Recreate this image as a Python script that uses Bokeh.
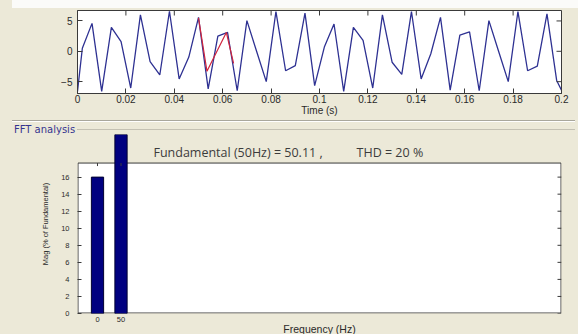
from bokeh.plotting import figure
from bokeh.layouts import column
from bokeh.models import Range1d, FixedTicker, Label, Div, GlobalInlineStyleSheet
from bokeh.embed import file_html
from bokeh.resources import INLINE

BG = "#ECE9D8"
FRAME = "#3a3a3a"

# --- sampled signal (time in s, amplitude) ---
time_s = [0.0,
          0.002, 0.006, 0.010, 0.014, 0.018, 0.022, 0.026, 0.030, 0.034, 0.038,
          0.042, 0.046, 0.050, 0.054, 0.058, 0.062, 0.066, 0.070, 0.074, 0.078,
          0.082, 0.086, 0.090, 0.094, 0.098,
          0.102, 0.106, 0.110, 0.114, 0.118, 0.122, 0.126, 0.130, 0.134, 0.138,
          0.142, 0.146, 0.150, 0.154, 0.158, 0.162, 0.166, 0.170, 0.174, 0.178,
          0.182, 0.186, 0.190, 0.194, 0.198,
          0.2]
signal = [-6.6,
          0.5, 4.6, -6.6, 3.95, 1.6, -6.05, 6.0, -1.7, -3.9, 6.6,
          -4.55, -0.95, 5.6, -6.2, 2.5, 3.1, -6.5, 5.05, 0.0, -5.0,
          6.55, -3.2, -2.35, 6.3, -5.65,
          0.7, 4.5, -6.6, 3.95, 1.8, -6.05, 6.0, -1.8, -3.8, 6.55,
          -4.55, -0.4, 5.6, -6.4, 2.65, 3.2, -6.5, 5.05, 0.0, -5.0,
          6.55, -3.2, -2.45, 6.15, -4.8,
          -6.4]

# FFT window segment (one cycle) shown in red
window_time = [0.050, 0.0535, 0.0615, 0.0645]
window_signal = [5.5, -3.3, 3.1, -2.0]

time_ticks = [0.0, 0.02, 0.04, 0.06, 0.08, 0.1, 0.12, 0.14, 0.16, 0.18, 0.2]
time_tick_labels = ["0", "0.02", "0.04", "0.06", "0.08", "0.1", "0.12",
                    "0.14", "0.16", "0.18", "0.2"]
signal_ticks = [-5, 0, 5]

# --- FFT result ---
freq_hz = [0, 50]
mag_pct = [16, 100]
fundamental_hz = 50
fundamental_mag = 50.11
thd_pct = 20
mag_ticks = [0, 2, 4, 6, 8, 10, 12, 14, 16]
freq_ticks = [0, 50]
mag_axis_top = 17.65

TICK_FONT = "Liberation Sans"
TXT = "#2a2a2a"

# frame geometry shared by both axes panels (pixels)
LEFT, RIGHT = 77, 17
FRAME_W = 578 - LEFT - RIGHT

# thin white strip across the top of the window
strip = Div(text="", width=578, height=8,
            styles={"background": f"linear-gradient(to right, {BG} 12px, #fbfbf9 12px)",
                    "margin": "0", "padding": "0"})

# --- time-domain signal ---
t_lo, t_hi = 0.0, 0.2
s_lo, s_hi = -6.95, 6.72
FRAME1_H = 83
P1_BOTTOM = 37
p1 = figure(width=578, height=2 + FRAME1_H + P1_BOTTOM,
            x_range=Range1d(t_lo, t_hi), y_range=Range1d(s_lo, s_hi),
            output_backend="svg", toolbar_location=None,
            min_border_left=LEFT, min_border_right=RIGHT, min_border_top=2,
            min_border_bottom=P1_BOTTOM,
            background_fill_color="white", border_fill_color=BG,
            outline_line_color=FRAME)
p1.grid.visible = False
p1.line(time_s, signal, line_color="#2e3192", line_width=1.3)
p1.line(window_time, window_signal, line_color="#d0243c", line_width=1.2)

# inward tick marks on the top and right edges of the box
px_t = (t_hi - t_lo) / FRAME_W
px_s = (s_hi - s_lo) / FRAME1_H
p1.segment(x0=time_ticks, y0=[s_hi] * len(time_ticks), x1=time_ticks,
           y1=[s_hi - 5 * px_s] * len(time_ticks), line_color=FRAME)
p1.segment(x0=[t_hi] * 3, y0=signal_ticks, x1=[t_hi - 5 * px_t] * 3, y1=signal_ticks,
           line_color=FRAME)

p1.xaxis.ticker = FixedTicker(ticks=time_ticks)
p1.xaxis.major_label_overrides = dict(zip(time_ticks, time_tick_labels))
p1.xaxis.axis_label = "Time (s)"
p1.yaxis.ticker = FixedTicker(ticks=signal_ticks)
for ax in p1.axis:
    ax.axis_line_color = FRAME
    ax.major_tick_in = 5
    ax.major_tick_out = 0
    ax.minor_tick_line_color = None
    ax.major_tick_line_color = FRAME
    ax.major_label_text_font = TICK_FONT
    ax.major_label_text_font_size = "10px"
    ax.major_label_text_color = TXT
    ax.axis_label_text_font = TICK_FONT
    ax.axis_label_text_font_style = "normal"
    ax.axis_label_text_font_size = "10px"
    ax.axis_label_text_color = TXT
p1.xaxis.major_label_standoff = 1
p1.xaxis.axis_label_standoff = -1
p1.yaxis.major_label_standoff = 5

# --- "FFT analysis" group header (tucked under the lower border of the signal panel) ---
hdr_html = (
    '<div style="position:relative;width:578px;height:16px;background:%s;">'
    '<div style="position:absolute;left:12px;top:2px;width:563px;height:1px;background:#a9a79c;"></div>'
    '<div style="position:absolute;left:12px;top:3px;width:563px;height:1px;background:#ffffff;"></div>'
    '<div style="position:absolute;left:77px;top:11px;width:498px;height:1px;background:#c4c1b3;"></div>'
    '<span style="position:absolute;left:14px;top:5px;font-family:\'DejaVu Sans\';font-size:10px;'
    'line-height:13px;color:#35358f;white-space:nowrap;">FFT analysis</span>'
    '</div>' % BG
)
overlap = 8 + 2 + FRAME1_H + P1_BOTTOM - 118
hdr = Div(text=hdr_html, width=578, height=16,
          styles={"margin": "0", "padding": "0", "margin-top": f"-{overlap}px"})

# --- FFT magnitude bars ---
f_lo, f_hi = -42.55, 987.2
m_lo, m_hi = 0.0, 21.0
FRAME2_H = 179
p2 = figure(width=578, height=FRAME2_H + 24, x_range=Range1d(f_lo, f_hi), y_range=Range1d(m_lo, m_hi),
            output_backend="svg", toolbar_location=None,
            min_border_left=LEFT, min_border_right=RIGHT, min_border_top=0, min_border_bottom=24,
            background_fill_color=BG, border_fill_color=BG, outline_line_color=None)
p2.grid.visible = False
px_f = (f_hi - f_lo) / FRAME_W
px_m = (m_hi - m_lo) / FRAME2_H
p2.quad(left=[f_lo + 0.5 * px_f], right=[f_hi - 0.5 * px_f], bottom=[m_lo + 0.5 * px_m],
        top=[mag_axis_top], fill_color="white", line_color=FRAME, line_width=1)
p2.vbar(x=freq_hz, top=mag_pct, width=26, fill_color="#000080", line_color="#000030")
# inward tick marks on the top and right edges of the box
p2.segment(x0=freq_ticks, y0=[mag_axis_top] * 2, x1=freq_ticks,
           y1=[mag_axis_top - 3 * px_m] * 2, line_color=FRAME)
p2.segment(x0=[f_hi] * len(mag_ticks), y0=mag_ticks, x1=[f_hi - 4 * px_f] * len(mag_ticks),
           y1=mag_ticks, line_color=FRAME)

p2.yaxis.ticker = FixedTicker(ticks=mag_ticks)
p2.yaxis.axis_label = "Mag (% of Fundamental)"
p2.xaxis.ticker = FixedTicker(ticks=freq_ticks)
p2.xaxis.axis_label = "Frequency (Hz)"
for ax in p2.axis:
    ax.axis_line_color = None
    ax.major_tick_in = 4
    ax.major_tick_out = 0
    ax.minor_tick_line_color = None
    ax.major_label_text_font = TICK_FONT
    ax.major_label_text_font_size = "7.5px"
    ax.major_label_text_color = TXT
    ax.axis_label_text_font = TICK_FONT
    ax.axis_label_text_font_style = "normal"
    ax.axis_label_text_color = TXT
p2.xaxis.major_tick_line_color = None
p2.yaxis.major_tick_line_color = FRAME
p2.yaxis.axis_label_text_font_size = "7.5px"
p2.yaxis.major_label_standoff = 8
p2.yaxis.axis_label_standoff = 8
p2.xaxis.axis_label_text_font_size = "10.5px"
p2.xaxis.major_label_standoff = 3
p2.xaxis.axis_label_standoff = -2

p2.add_layout(Label(x=119.1, y=18.89, text=f"Fundamental ({fundamental_hz}Hz) = {fundamental_mag} ,",
                    text_font="Open Sans", text_font_size="12.5px", text_color="#3c3c3c",
                    text_baseline="middle"))
p2.add_layout(Label(x=551.1, y=18.89, text=f"THD = {thd_pct} %",
                    text_font="Open Sans", text_font_size="12.5px", text_color="#3c3c3c",
                    text_baseline="middle"))

layout = column(strip, p1, hdr, p2, spacing=0)
layout.stylesheets = [GlobalInlineStyleSheet(
    css=f"html, body {{ margin: 0; padding: 0; overflow: hidden; background: {BG}; }}")]
open("out.html", "w").write(file_html(layout, INLINE))
